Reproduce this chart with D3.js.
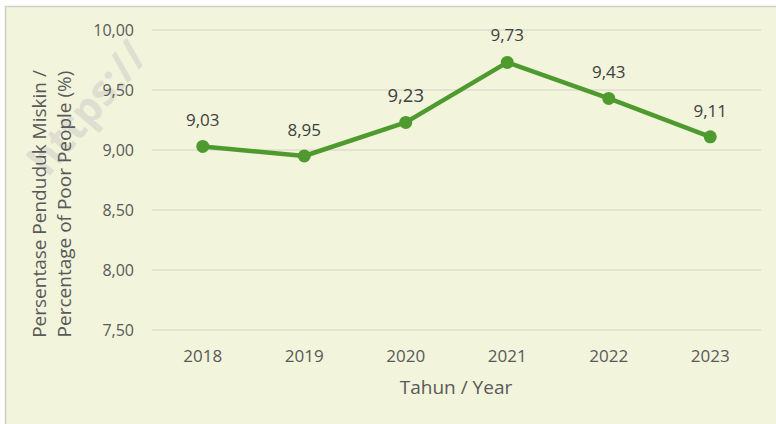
<!DOCTYPE html>
<html><head><meta charset="utf-8">
<script src="https://cdn.jsdelivr.net/npm/d3@7"></script>
<style>html,body{margin:0;padding:0;background:#fff;}svg{display:block;}</style>
</head><body>
<svg id="c" width="776" height="424"></svg>
<script>
const years = ["2018","2019","2020","2021","2022","2023"];
const values = [9.03, 8.95, 9.23, 9.73, 9.43, 9.11];
const valueLabels = ["9,03","8,95","9,23","9,73","9,43","9,11"];
const yTicks = [7.5, 8.0, 8.5, 9.0, 9.5, 10.0];

const svg = d3.select("#c");
const W = 776, H = 424;
svg.append("rect").attr("x",5.5).attr("y",6.5).attr("width",W).attr("height",H)
  .attr("fill","#F2F4DB").attr("stroke","#CFCFC8").attr("stroke-width",1.5);

// faint watermark
svg.append("text").attr("transform","translate(48,178) rotate(-50)")
  .attr("font-family","Open Sans, sans-serif").attr("font-weight","bold").attr("font-size",42)
  .attr("fill","#DEDFD1").text("https://");

const x = d3.scaleBand().domain(years).range([152,761]);
const y = d3.scaleLinear().domain([7.5,10]).range([330,30]);
const font = "'Open Sans', 'Noto Sans', sans-serif";

svg.append("g").selectAll("line").data(yTicks).join("line")
  .attr("x1",152).attr("x2",761).attr("y1",d=>y(d)).attr("y2",d=>y(d))
  .attr("stroke","#DFDDD0").attr("stroke-width",1.5);

const yAxis = d3.axisLeft(y).tickValues(yTicks).tickSize(0).tickPadding(0)
  .tickFormat(d=>d3.format(".2f")(d).replace(".",","));
const ya = svg.append("g").attr("transform","translate(134,0)").call(yAxis);
ya.select(".domain").remove();
ya.selectAll("text").attr("font-family",font).attr("font-size",16).attr("fill","#595959")
  .attr("dy","0.36em");

const xAxis = d3.axisBottom(x).tickSize(0).tickPadding(0);
const xa = svg.append("g").attr("transform","translate(0,362)").call(xAxis);
xa.select(".domain").remove();
xa.selectAll("text").attr("font-family",font).attr("font-size",17).attr("fill","#595959")
  .attr("y",0).attr("dy",0);

svg.append("text").attr("x",456).attr("y",394).attr("text-anchor","middle")
  .attr("font-family",font).attr("font-size",19).attr("fill","#595959").text("Tahun / Year");

const yt = svg.append("text").attr("transform","translate(0,204) rotate(-90)")
  .attr("text-anchor","middle").attr("font-family",font).attr("font-size",19).attr("fill","#595959");
yt.append("tspan").attr("x",0).attr("y",46).text("Persentase Penduduk Miskin /");
yt.append("tspan").attr("x",0).attr("y",71).text("Percentage of Poor People (%)");

const cx = d => x(d) + x.bandwidth()/2;
const data = years.map((yr,i)=>({yr, v:values[i], lab:valueLabels[i]}));
svg.append("path").datum(data)
  .attr("d", d3.line().x(d=>cx(d.yr)).y(d=>y(d.v)))
  .attr("fill","none").attr("stroke","#4E9A2F").attr("stroke-width",4.5).attr("stroke-linejoin","round");
svg.selectAll("circle.pt").data(data).join("circle")
  .attr("cx",d=>cx(d.yr)).attr("cy",d=>y(d.v)).attr("r",6.5).attr("fill","#4E9A2F");
svg.selectAll("text.lab").data(data).join("text")
  .attr("x",d=>cx(d.yr)).attr("y",(d,i)=>y(d.v)-(i===3?21:20))
  .attr("text-anchor","middle").attr("font-family",font)
  .attr("font-size",(d,i)=>i===2?18.6:17).attr("fill","#404040").text(d=>d.lab);
</script>
</body></html>
